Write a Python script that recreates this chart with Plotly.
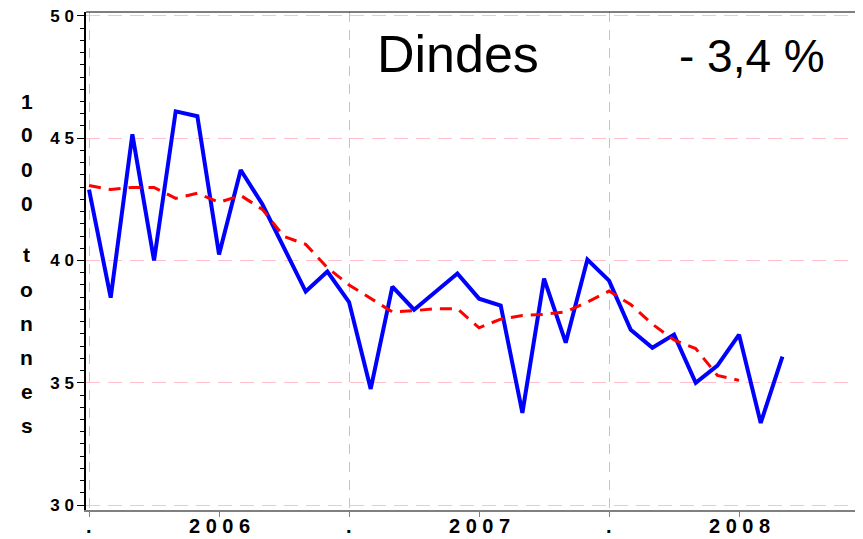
import plotly.graph_objects as go

# ---- data ----
months_blue = list(range(33))          # 0 = Jan 2006
monthly = [42.9, 38.48, 45.16, 40.0, 46.1, 45.9, 40.25, 43.7, 42.3, 40.5,
           38.73, 39.55, 38.3, 34.75, 38.93, 37.99, 38.73, 39.47, 38.44, 38.16,
           33.77, 39.26, 36.64, 40.04, 39.18, 37.17, 36.43, 36.97, 35.0, 35.7,
           36.97, 33.36, 36.07]
months_red = list(range(31))
moving_avg = [43.07, 42.9, 42.99, 42.99, 42.54, 42.75, 42.38, 42.66, 42.09, 40.98,
              40.66, 39.71, 39.0, 38.45, 37.9, 37.95, 38.03, 38.03, 37.25, 37.6,
              37.75, 37.8, 37.9, 38.3, 38.75, 38.2, 37.4, 36.75, 36.4, 35.3,
              35.1]

dot_vals = [0, 12, 24]
dot_text = [".", ".", "."]
year_vals = [6, 18, 30]
year_text = ["2 0 0 6", "2 0 0 7", "2 0 0 8"]
y_vals = [30, 35, 40, 45, 50]
y_text = ["3 0", "3 5", "4 0", "4 5", "5 0"]
title_text = "Dindes"
change_text = "- 3,4 %"
ytitle_chars_1 = ["1", "0", "0", "0"]
ytitle_chars_2 = ["t", "o", "n", "n", "e", "s"]

FONT = "Liberation Sans, Arial, sans-serif"
PINK = "#ffc0cb"
PINK_V = "#ffa8bb"
XR = [-0.14, 35.72]

# page body has an 8px offset -> figure is drawn from (8, 8)
OFF = 8
W, H = 863 - OFF, 539 - OFF
PL, PR, PT, PB = 86, 863, 12, 510          # desired plot box in window pixels

fig = go.Figure()
fig.add_trace(go.Scatter(x=months_blue, y=monthly, mode="lines",
                         line=dict(color="#0000ff", width=4), showlegend=False))
fig.add_trace(go.Scatter(x=months_red, y=moving_avg, mode="lines",
                         line=dict(color="#ff0000", width=3, dash="12px,8px"),
                         showlegend=False))

tickfont_x = dict(family=FONT, size=20, color="black", weight="bold")

fig.update_layout(
    width=W, height=H,
    margin=dict(l=PL - OFF, r=(863 - PR), t=PT - OFF, b=539 - PB, pad=0),
    paper_bgcolor="white", plot_bgcolor="white",
    xaxis=dict(range=XR, tickmode="array", tickvals=dot_vals, ticktext=dot_text,
               showticklabels=False,
               showgrid=True, gridcolor=PINK_V, gridwidth=1, griddash="10px,8px",
               showline=True, linecolor="#808080", linewidth=2,
               ticks="outside", ticklen=5, tickcolor="#808080", tickwidth=1,
               minor=dict(dtick=6, tick0=0, ticks="outside", ticklen=5,
                          tickcolor="#808080", tickwidth=1, showgrid=False),
               zeroline=False, automargin=False),
    yaxis=dict(range=[29.8, 50.16], tickmode="array", tickvals=y_vals, ticktext=y_text,
               showgrid=True, gridcolor=PINK, gridwidth=1, griddash="14px,8px",
               showline=True, linecolor="black", linewidth=1.5,
               ticks="outside", ticklen=7, tickcolor="black", tickwidth=1,
               minor=dict(dtick=0.5, tick0=0, ticks="outside", ticklen=4,
                          tickcolor="black", showgrid=False),
               tickfont=dict(family=FONT, size=17, color="black", weight="bold"),
               zeroline=False, automargin=False, ticklabeloverflow="allow"),
)

fig.add_shape(type="line", xref="paper", yref="paper", x0=0, x1=1, y0=1, y1=1,
              line=dict(color="black", width=1))

def px_to_paper_x(px):
    return (px - PL) / (PR - PL)

def px_to_paper_y(py):
    return (PB - py) / (PB - PT)

# x-axis labels (years at mid-year, dots at year boundaries)
for xv, txt in list(zip(year_vals, year_text)) + list(zip(dot_vals, dot_text)):
    fig.add_annotation(text=txt, xref="x", yref="paper", x=xv, y=px_to_paper_y(526),
                       showarrow=False, xanchor="center", yanchor="middle",
                       font=tickfont_x)

fig.add_annotation(text=title_text, xref="paper", yref="paper",
                   x=px_to_paper_x(458), y=px_to_paper_y(54), showarrow=False,
                   xanchor="center", yanchor="middle",
                   font=dict(family=FONT, size=52, color="black"))
fig.add_annotation(text=change_text, xref="paper", yref="paper",
                   x=px_to_paper_x(752), y=px_to_paper_y(56), showarrow=False,
                   xanchor="center", yanchor="middle",
                   font=dict(family=FONT, size=46, color="black"))

for i, ch in enumerate(ytitle_chars_1):
    fig.add_annotation(text=ch, xref="paper", yref="paper",
                       x=px_to_paper_x(27), y=px_to_paper_y(101 + 34 * i),
                       showarrow=False, xanchor="center", yanchor="middle",
                       font=dict(family=FONT, size=21, color="black", weight="bold"))
for i, ch in enumerate(ytitle_chars_2):
    fig.add_annotation(text=ch, xref="paper", yref="paper",
                       x=px_to_paper_x(27), y=px_to_paper_y(255 + 34 * i),
                       showarrow=False, xanchor="center", yanchor="middle",
                       font=dict(family=FONT, size=21, color="black", weight="bold"))

fig.write_html("out.html")
